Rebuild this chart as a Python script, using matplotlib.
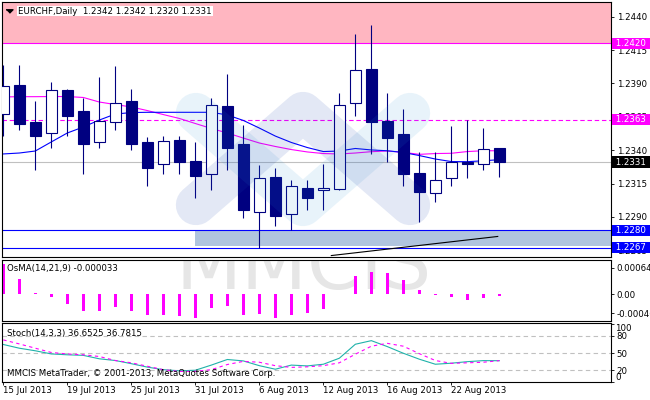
import matplotlib
matplotlib.use("Agg")
import matplotlib.pyplot as plt
import matplotlib.transforms as mtransforms
from matplotlib.patches import Rectangle

plt.rcParams["font.family"] = ["DejaVu Sans"]
FS = 6.2

# --- data --------------------------------------------------------------------
DATE_BARS = [0, 4, 8, 12, 16, 20, 24, 28]
DATE_LABELS = ["15 Jul 2013", "19 Jul 2013", "25 Jul 2013", "31 Jul 2013",
               "6 Aug 2013", "12 Aug 2013", "16 Aug 2013", "22 Aug 2013"]

OPEN = [1.2367, 1.2389, 1.2361, 1.2353, 1.2385, 1.2369, 1.2346, 1.2361,
        1.2377, 1.2346, 1.2330, 1.2348, 1.2332, 1.2322, 1.2373, 1.2345,
        1.2294, 1.2320, 1.2292, 1.2312, 1.2310, 1.2311, 1.2375, 1.2401,
        1.2362, 1.2352, 1.2323, 1.2308, 1.2319, 1.2331, 1.2330, 1.2342]
HIGH = [1.2404, 1.2404, 1.2377, 1.2391, 1.2386, 1.2379, 1.2395, 1.2403,
        1.2386, 1.2350, 1.2351, 1.2351, 1.2346, 1.2379, 1.2397, 1.2359,
        1.2329, 1.2327, 1.2318, 1.2318, 1.2330, 1.2383, 1.2427, 1.2434,
        1.2383, 1.2371, 1.2339, 1.2339, 1.2358, 1.2363, 1.2357, 1.2342]
LOW = [1.2351, 1.2355, 1.2325, 1.2342, 1.2351, 1.2322, 1.2342, 1.2355,
       1.2340, 1.2313, 1.2322, 1.2322, 1.2304, 1.2310, 1.2325, 1.2289,
       1.2267, 1.2283, 1.2280, 1.2295, 1.2295, 1.2310, 1.2366, 1.2337,
       1.2331, 1.2313, 1.2286, 1.2301, 1.2313, 1.2319, 1.2325, 1.2320]
CLOSE = [1.2388, 1.2360, 1.2351, 1.2385, 1.2366, 1.2345, 1.2362, 1.2375,
         1.2345, 1.2327, 1.2347, 1.2331, 1.2321, 1.2374, 1.2342, 1.2295,
         1.2319, 1.2291, 1.2313, 1.2304, 1.2312, 1.2374, 1.2400, 1.2361,
         1.2349, 1.2322, 1.2309, 1.2318, 1.2331, 1.2330, 1.2341, 1.2331]

MA_FAST = [1.23372, 1.23379, 1.23394, 1.23462, 1.23529, 1.23574, 1.23626, 1.23671,
           1.23682, 1.23684, 1.23684, 1.23684, 1.23684, 1.23684, 1.23664, 1.23623,
           1.23566, 1.23506, 1.23458, 1.23420, 1.23390, 1.23394, 1.23413, 1.23402,
           1.23396, 1.23383, 1.23360, 1.23334, 1.23315, 1.23314, 1.23321, 1.23329]
MA_SLOW = [1.23799, 1.23801, 1.23801, 1.23802, 1.23802, 1.23795, 1.23761, 1.23742,
           1.23724, 1.23697, 1.23667, 1.23638, 1.23600, 1.23563, 1.23529, 1.23491,
           1.23454, 1.23428, 1.23405, 1.23387, 1.23375, 1.23372, 1.23379, 1.23389,
           1.23394, 1.23384, 1.23369, 1.23375, 1.23377, 1.23390, 1.23396, 1.23396]

OSMA = [0.00075, 0.00037, 0.00003, -0.00007, -0.00022, -0.00041, -0.00041, -0.00031,
        -0.00041, -0.00050, -0.00050, -0.00053, -0.00058, -0.00032, -0.00029, -0.00050,
        -0.00047, -0.00056, -0.00050, -0.00046, -0.00036, 0.00002, 0.00044, 0.00055,
        0.00053, 0.00035, 0.00010, -0.00002, -0.00007, -0.00013, -0.00008, -0.000033]

STOCH_MAIN = [65, 58.5, 54, 48.5, 47, 46, 40, 37, 31.5, 25.5, 21, 19, 20, 29, 38.8, 36.3,
              28, 21.8, 29, 27.6, 30.5, 41, 65.4, 71.7, 61.3, 49.7, 39.3, 30.5, 32.3, 35,
              36.8, 36.6525]
STOCH_SIGNAL = [73, 66, 58.5, 51, 48.5, 47, 44, 37, 33, 27, 21, 18, 18, 21, 30, 35.5,
                34, 28, 25, 26, 28, 33, 48, 62, 67, 62, 49, 37, 32, 33, 34, 36.7815]

PRICE_TICKS = [1.2265, 1.2290, 1.2315, 1.2340, 1.2365, 1.2390, 1.2415, 1.2440]
RESIST = 1.2420
LEVEL_DASH = 1.2363
LAST_PRICE = 1.2331
SUPPORT_HI = 1.2280
SUPPORT_LO = 1.2267
ZONE_LO = 1.2268
ZONE_START_BAR = 12
TREND_BARS = [20.5, 30.9]
TREND_PRICES = [1.22611, 1.22754]

OSMA_TICKS = [0.000648, 0.0, -0.00046]
OSMA_TICK_LABELS = ["0.000648", "0.00", "-0.00046"]
STOCH_LEVELS = [20, 50, 80]

TITLE = "EURCHF,Daily  1.2342 1.2342 1.2320 1.2331"
OSMA_TITLE = "OsMA(14,21,9) -0.000033"
STOCH_TITLE = "Stoch(14,3,3) 36.6525 36.7815"
FOOTER = "MMCIS MetaTrader, \u00a9 2001-2013, MetaQuotes Software Corp."

NAVY = "#000080"
MAGENTA = "#FF00FF"
BODY_W = 0.69
XLIM = (-0.1, 37.96)


def style_panel(ax, show_dates=False):
    ax.set_xlim(*XLIM)
    for sp in ax.spines.values():
        sp.set_color("black")
        sp.set_linewidth(0.8)
    ax.tick_params(axis="y", left=False, labelleft=False, right=True, labelright=True,
                   direction="out", length=2.2, width=0.6, pad=2.0, labelsize=FS)
    if show_dates:
        ax.set_xticks(DATE_BARS, DATE_LABELS)
        ax.tick_params(axis="x", direction="out", length=2.2, width=0.6, pad=1.0,
                       labelsize=FS)
        for lab in ax.get_xticklabels():
            lab.set_horizontalalignment("left")
    else:
        ax.tick_params(axis="x", bottom=False, labelbottom=False)


def price_box(ax, value, fc):
    tr = mtransforms.blended_transform_factory(ax.transAxes, ax.transData)
    ax.text(1.0043, value, f" {value:.4f} ", transform=tr, ha="left", va="center",
            color="white", fontsize=FS, clip_on=False, zorder=10,
            bbox=dict(boxstyle="square,pad=0.15", fc=fc, ec="none"))


def draw_main(ax):
    ax.set_ylim(1.225979, 1.245124)
    ax.set_yticks(PRICE_TICKS, [f"{v:.4f}" for v in PRICE_TICKS])

    ax.axhspan(RESIST, 1.26, color="#FFB6C1", lw=0, zorder=1)
    ax.fill_between([ZONE_START_BAR, 60], ZONE_LO, SUPPORT_HI, color="#B0C4DE",
                    lw=0, zorder=1.2)
    ax.axhline(RESIST, color=MAGENTA, lw=0.8, zorder=2)
    ax.axhline(LEVEL_DASH, color=MAGENTA, lw=0.8, dashes=(4, 2.5), zorder=2)
    ax.axhline(LAST_PRICE, color="#C0C0C0", lw=0.8, zorder=1.8)
    ax.axhline(SUPPORT_HI, color="#0000FF", lw=0.8, zorder=2)
    ax.axhline(SUPPORT_LO, color="#0000FF", lw=0.8, zorder=2)
    ax.plot(TREND_BARS, TREND_PRICES, color="black", lw=0.8, zorder=2.5)

    bars = range(len(CLOSE))
    ax.plot(bars, MA_SLOW, color=MAGENTA, lw=0.8, zorder=2)
    ax.plot(bars, MA_FAST, color="#0000FF", lw=0.8, zorder=2)

    for i, (o, h, l, c) in enumerate(zip(OPEN, HIGH, LOW, CLOSE)):
        top, bot = max(o, c), min(o, c)
        ax.vlines(i, top, h, color=NAVY, lw=0.8, zorder=3)
        ax.vlines(i, l, bot, color=NAVY, lw=0.8, zorder=3)
        face = "white" if c > o else NAVY
        ax.add_patch(Rectangle((i - BODY_W / 2, bot), BODY_W, max(top - bot, 0.00002),
                               facecolor=face, edgecolor=NAVY, lw=0.8, zorder=3))

    # MMCIS logo watermark (two pale chevrons laid over the chart)
    ax.plot([0.319, 0.4947, 0.6705], [0.5646, 0.2007, 0.5646], transform=ax.transAxes,
            color=(38 / 255, 147 / 255, 213 / 255), alpha=0.10, lw=29,
            solid_capstyle="round", solid_joinstyle="round", zorder=4)
    ax.plot([0.319, 0.4947, 0.6705], [0.2046, 0.5685, 0.2046], transform=ax.transAxes,
            color=(28 / 255, 68 / 255, 175 / 255), alpha=0.12, lw=29,
            solid_capstyle="round", solid_joinstyle="round", zorder=4)

    for value, fc in [(RESIST, MAGENTA), (LEVEL_DASH, MAGENTA), (LAST_PRICE, "black"),
                      (SUPPORT_HI, "#0000FF"), (SUPPORT_LO, "#0000FF")]:
        price_box(ax, value, fc)

    ax.plot([0.0125], [0.9636], transform=ax.transAxes, marker=[(-1, 0.5), (1, 0.5), (0, -0.5)],
            ms=5, color="black", ls="none", zorder=11)
    ax.text(0.0268, 0.9636, TITLE, transform=ax.transAxes, ha="left", va="center",
            fontsize=FS, zorder=11, bbox=dict(boxstyle="square,pad=0.1", fc="white", ec="none"))


def draw_osma(ax):
    ax.set_ylim(-0.000637, 0.000838)
    ax.set_yticks(OSMA_TICKS, OSMA_TICK_LABELS)
    ax.text(0.2846, 0.52, "MMCIS", transform=ax.transAxes, fontsize=55, color="#E6E6E6",
            ha="left", va="baseline", zorder=0.5, clip_on=True)
    ax.bar(range(len(OSMA)), OSMA, width=0.17, color=MAGENTA, lw=0, zorder=2)
    ax.text(0.0092, 0.852, OSMA_TITLE, transform=ax.transAxes, ha="left", va="center",
            fontsize=FS, zorder=5)


def draw_stoch(ax):
    ax.set_ylim(0, 102)
    ax.set_yticks([0] + STOCH_LEVELS + [100], [""] + [str(v) for v in STOCH_LEVELS] + [""])
    for lv in STOCH_LEVELS:
        ax.axhline(lv, color="#C0C0C0", lw=0.8, dashes=(4, 3), zorder=1)
    bars = range(len(STOCH_MAIN))
    ax.plot(bars, STOCH_MAIN, color="#20B2AA", lw=0.8, zorder=2)
    ax.plot(bars, STOCH_SIGNAL, color=MAGENTA, lw=0.8, dashes=(3, 3), zorder=2)
    tr = mtransforms.blended_transform_factory(ax.transAxes, ax.transData)
    ax.text(1.0075, 100, "100", transform=tr, ha="left", va="top", fontsize=FS, clip_on=False)
    ax.text(1.0075, 0, "0", transform=tr, ha="left", va="bottom", fontsize=FS, clip_on=False)
    ax.text(0.0092, 0.825, STOCH_TITLE, transform=ax.transAxes, ha="left", va="center",
            fontsize=FS, zorder=5)
    ax.text(0.0092, 0.132, FOOTER, transform=ax.transAxes, ha="left", va="center",
            fontsize=FS, zorder=5)


def main():
    fig = plt.figure(figsize=(6.5, 4.0), dpi=100)
    ax_main = fig.add_axes([0.00262, 0.35675, 0.93692, 0.639])
    ax_osma = fig.add_axes([0.00262, 0.19825, 0.93692, 0.15175])
    ax_stoch = fig.add_axes([0.00262, 0.04575, 0.93692, 0.146])

    draw_main(ax_main)
    draw_osma(ax_osma)
    draw_stoch(ax_stoch)
    style_panel(ax_main)
    style_panel(ax_osma)
    style_panel(ax_stoch, show_dates=True)

    fig.savefig("out.png", dpi=100)


if __name__ == "__main__":
    main()
